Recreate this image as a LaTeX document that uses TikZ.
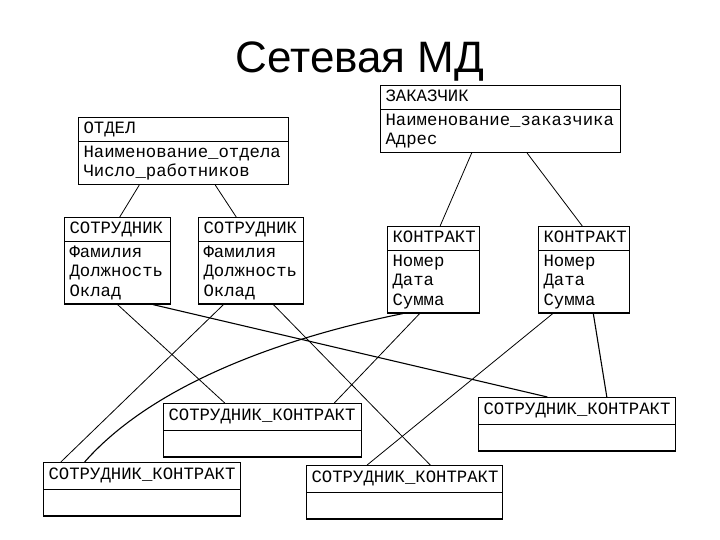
\documentclass[tikz,border=0pt]{standalone}
\usepackage{fontspec}
\setmainfont{Liberation Sans}
\newfontfamily\boxfont{Liberation Mono}
\usepackage{tikz}
\usetikzlibrary{shapes.multipart,calc}
\tikzset{
  entity/.style={rectangle split, rectangle split parts=2, draw, line width=1.2pt,
    anchor=north west, inner xsep=5pt, inner ysep=1.5pt, align=left,
    font=\boxfont\fontsize{17.3}{19.5}\selectfont},
  linkbox/.style={entity, inner ysep=3pt},
  link/.style={line width=0.8pt}
}

\begin{document}
\begin{tikzpicture}[x=1pt,y=-1pt]
  \useasboundingbox (0,0) rectangle (720,540);
  \node[font=\fontsize{44}{50}\selectfont, anchor=base] (title) at (360,73) {Сетевая МД};
  \node[entity, text width=200] (otdel) at (78,117) {\strut ОТДЕЛ\nodepart{two}\strut Наименование\_отдела\\Число\_работников\strut};
  \node[entity, text width=96] (emp1) at (64,217) {\strut СОТРУДНИК\nodepart{two}\strut Фамилия\\Должность\\Оклад\strut};
  \node[entity, text width=95] (emp2) at (198,217) {\strut СОТРУДНИК\nodepart{two}\strut Фамилия\\Должность\\Оклад\strut};
  \node[entity, text width=230] (zak) at (380,85) {\strut ЗАКАЗЧИК\nodepart{two}\strut Наименование\_заказчика\\Адрес\strut};
  \node[entity, text width=82] (k1) at (387,226) {\strut КОНТРАКТ\nodepart{two}\strut Номер\\Дата\\Сумма\strut};
  \node[entity, text width=81] (k2) at (538,226) {\strut КОНТРАКТ\nodepart{two}\strut Номер\\Дата\\Сумма\strut};
  \node[linkbox, text width=188] (sk1) at (163,403) {\strut СОТРУДНИК\_КОНТРАКТ\nodepart{two}\strut};
  \node[linkbox, text width=187] (sk2) at (43,462) {\strut СОТРУДНИК\_КОНТРАКТ\nodepart{two}\strut};
  \node[linkbox, text width=186] (sk3) at (306,465) {\strut СОТРУДНИК\_КОНТРАКТ\nodepart{two}\strut};
  \node[linkbox, text width=187] (sk4) at (478,397) {\strut СОТРУДНИК\_КОНТРАКТ\nodepart{two}\strut};

  \draw[link] ($(otdel.south west)!0.29!(otdel.south east)$) -- ($(emp1.north west)!0.52!(emp1.north east)$);
  \draw[link] ($(otdel.south west)!0.65!(otdel.south east)$) -- ($(emp2.north west)!0.36!(emp2.north east)$);
  \draw[link] ($(zak.south west)!0.38!(zak.south east)$) -- ($(k1.north west)!0.57!(k1.north east)$);
  \draw[link] ($(zak.south west)!0.61!(zak.south east)$) -- ($(k2.north west)!0.48!(k2.north east)$);
  \draw[link] ($(emp1.south west)!0.50!(emp1.south east)$) -- ($(sk1.north west)!0.31!(sk1.north east)$);
  \draw[link, line width=1.1pt] ($(emp1.south west)!0.83!(emp1.south east)$) -- ($(sk4.north west)!0.35!(sk4.north east)$);
  \draw[link] ($(emp2.south west)!0.24!(emp2.south east)$) -- ($(sk2.north west)!0.09!(sk2.north east)$);
  \draw[link] ($(emp2.south west)!0.71!(emp2.south east)$) -- ($(sk3.north west)!0.63!(sk3.north east)$);
  \coordinate (c1) at ($(k1.south west)!0.17!(k1.south east)$);
  \coordinate (c2) at ($(sk2.north west)!0.21!(sk2.north east)$);
  \draw[link, line width=1.1pt] (c1) .. controls ($(c1)+(-100,20)$) and ($(c2)+(75,-85)$) .. (c2);
  \draw[link] ($(k1.south west)!0.35!(k1.south east)$) -- ($(sk1.north west)!0.86!(sk1.north east)$);
  \draw[link] ($(k2.south west)!0.16!(k2.south east)$) -- ($(sk3.north west)!0.31!(sk3.north east)$);
  \draw[link, line width=1.1pt] ($(k2.south west)!0.60!(k2.south east)$) -- ($(sk4.north west)!0.65!(sk4.north east)$);
\end{tikzpicture}
\end{document}
